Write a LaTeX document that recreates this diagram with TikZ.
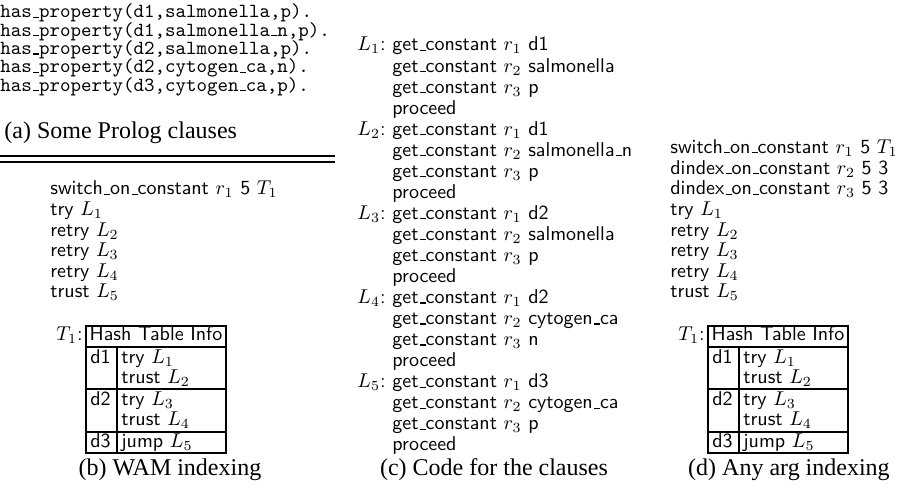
\documentclass[tikz,border=0pt]{standalone}
\usepackage{fontspec}
\setmainfont{Liberation Serif}
% thin low bar used for the underscore in identifiers
\newcommand\usc{\leavevmode\kern.06em\vbox{\hrule width.3em height .6pt}}
\newcommand\codefont{\fontsize{10}{12}\selectfont\sffamily}
\newcommand\ttcodefont{\fontsize{10}{12}\selectfont\ttfamily}
\newcommand\capfont{\fontsize{12}{14}\selectfont\rmfamily}

\tikzset{
  code/.style={anchor=base west, inner sep=0pt, font=\codefont},
  label/.style={anchor=base east, inner sep=0pt, font=\codefont},
  clause/.style={anchor=base west, inner sep=0pt, font=\ttcodefont},
  caption/.style={anchor=base, inner sep=0pt, font=\capfont},
  rulebar/.style={line width=1pt},
  grid/.style={line width=1.2pt},
  hashtable/.pic={
    \draw[grid] (0,0) rectangle (140,127);
    \draw[grid] (0,21) -- (140,21);
    \draw[grid] (0,63) -- (140,63);
    \draw[grid] (0,106) -- (140,106);
    \draw[grid] (31,21) -- (31,127);
    \node[label]  (-t)  at (-3,15) {$T_1$:};
    \node[anchor=base, inner sep=0pt, font=\codefont] (-h) at (70,15) {Hash Table Info};
    \node[code] (-k1) at (4,38)  {d1};
    \node[code] (-a1) at (35,38) {try $L_1$};
    \node[code] (-a2) at (35,58) {trust $L_2$};
    \node[code] (-k2) at (4,80)  {d2};
    \node[code] (-a3) at (35,80) {try $L_3$};
    \node[code] (-a4) at (35,100) {trust $L_4$};
    \node[code] (-k3) at (4,122) {d3};
    \node[code] (-a5) at (35,122) {jump $L_5$};
  }
}

\begin{document}
\begin{tikzpicture}[x=0.5pt,y=-0.5pt]
\useasboundingbox (0,0) rectangle (902,491);

% (a) the Prolog clauses
\node[clause] (p1) at (0,18)   {has\usc property(d1,salmonella,p).};
\node[clause] (p2) at (0,36.3) {has\usc property(d1,salmonella\usc n,p).};
\node[clause] (p3) at (0,54.6) {has\usc property(d2,salmonella,p).};
\node[clause] (p4) at (0,72.9) {has\usc property(d2,cytogen\usc ca,n).};
\node[clause] (p5) at (0,91.2) {has\usc property(d3,cytogen\usc ca,p).};
\node[caption, anchor=base west] (capa) at (4,139) {(a) Some Prolog clauses};

% double rule under (a)
\draw[rulebar] (0,156) -- (335,156);
\draw[rulebar] (0,162) -- (335,162);

% (b) WAM indexing
\node[code] (b1) at (50,195)   {switch\usc on\usc constant $r_1$ 5 $T_1$};
\node[code] (b2) at (50,215.6) {try $L_1$};
\node[code] (b3) at (50,236.2) {retry $L_2$};
\node[code] (b4) at (50,256.8) {retry $L_3$};
\node[code] (b5) at (50,277.4) {retry $L_4$};
\node[code] (b6) at (50,298)   {trust $L_5$};
\pic (tb) at (86,326) {hashtable};
\node[caption] (capb) at (170,476) {(b) WAM indexing};

% (c) code for each clause
\foreach \k/\a/\b/\c in {1/d1/salmonella/p, 2/d1/salmonella\usc n/p, 3/d2/salmonella/p, 4/d2/cytogen\usc ca/n, 5/d3/cytogen\usc ca/p}{
  \pgfmathsetmacro\yy{51+84.2*(\k-1)}
  \node[label] (L\k) at (386,\yy) {$L_\k$:};
  \node[code] (c\k-1) at (392,\yy) {get\usc constant $r_1$ \a};
  \node[code] (c\k-2) at (392,\yy+21.05) {get\usc constant $r_2$ \b};
  \node[code] (c\k-3) at (392,\yy+42.1) {get\usc constant $r_3$ \c};
  \node[code] (c\k-4) at (392,\yy+63.15) {proceed};
}
\node[caption] (capc) at (494,476) {(c) Code for the clauses};

% (d) indexing on any argument
\node[code] (d1) at (670,153.4) {switch\usc on\usc constant $r_1$ 5 $T_1$};
\node[code] (d2) at (670,174.2) {dindex\usc on\usc constant $r_2$ 5 3};
\node[code] (d3) at (670,195)   {dindex\usc on\usc constant $r_3$ 5 3};
\node[code] (d4) at (670,215.6) {try $L_1$};
\node[code] (d5) at (670,236.2) {retry $L_2$};
\node[code] (d6) at (670,256.8) {retry $L_3$};
\node[code] (d7) at (670,277.4) {retry $L_4$};
\node[code] (d8) at (670,298)   {trust $L_5$};
\pic (td) at (708,326) {hashtable};
\node[caption] (capd) at (789,476) {(d) Any arg indexing};
\end{tikzpicture}
\end{document}
